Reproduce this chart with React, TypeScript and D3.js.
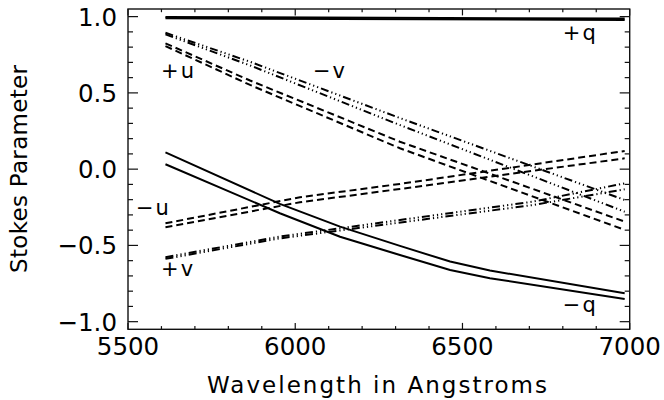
import React from "react";
import * as d3 from "d3";

// ---- data ----
const xTicksMajor = [5500, 6000, 6500, 7000];
const yTicksMajor = [-1.0, -0.5, 0.0, 0.5, 1.0];
const yTickLabels = ["\u22121.0", "\u22120.5", "0.0", "0.5", "1.0"];

const qPosWave = [5612, 6985];
const qPos1 = [0.998, 0.987];
const qPos2 = [0.989, 0.978];

const qNegWave = [5612, 5954, 6134, 6313, 6463, 6582, 6985];
const qNeg1 = [0.110, -0.228, -0.377, -0.503, -0.606, -0.665, -0.813];
const qNeg2 = [0.032, -0.289, -0.443, -0.563, -0.661, -0.715, -0.851];

const uPosWave = [5612, 5865, 6313, 6985];
const uPos1 = [0.825, 0.581, 0.180, -0.344];
const uPos2 = [0.807, 0.552, 0.137, -0.398];

const vNegWave = [5612, 5865, 6313, 6985];
const vNeg1 = [0.894, 0.704, 0.335, -0.202];
const vNeg2 = [0.884, 0.680, 0.289, -0.279];

const uNegWave = [5612, 6014, 6313, 6985];
const uNeg1 = [-0.355, -0.184, -0.097, 0.119];
const uNeg2 = [-0.381, -0.217, -0.130, 0.071];

const vPosWave = [5612, 5954, 6711, 6985];
const vPos1 = [-0.577, -0.442, -0.213, -0.093];
const vPos2 = [-0.588, -0.454, -0.235, -0.132];

const labels = [
  { text: "+q", wave: 6800, value: 0.846 },
  { text: "\u2212q", wave: 6800, value: -0.937 },
  { text: "+u", wave: 5599, value: 0.597 },
  { text: "\u2212v", wave: 6053, value: 0.597 },
  { text: "\u2212u", wave: 5524, value: -0.3 },
  { text: "+v", wave: 5599, value: -0.7 },
];

const SOLID = "none";
const DASH = "7,4";
const DASH3DOT = "8,3,1.2,3,1.2,3,1.2,3";

const series = [
  { wave: qPosWave, vals: qPos1, dash: SOLID },
  { wave: qPosWave, vals: qPos2, dash: SOLID },
  { wave: qNegWave, vals: qNeg1, dash: SOLID },
  { wave: qNegWave, vals: qNeg2, dash: SOLID },
  { wave: uPosWave, vals: uPos1, dash: DASH },
  { wave: uPosWave, vals: uPos2, dash: DASH },
  { wave: uNegWave, vals: uNeg1, dash: DASH },
  { wave: uNegWave, vals: uNeg2, dash: DASH },
  { wave: vNegWave, vals: vNeg1, dash: DASH3DOT },
  { wave: vNegWave, vals: vNeg2, dash: DASH3DOT },
  { wave: vPosWave, vals: vPos1, dash: DASH3DOT },
  { wave: vPosWave, vals: vPos2, dash: DASH3DOT },
];

export default function App() {
  const W = 664, H = 400;
  const left = 128, right = 629.7, top = 9, bottom = 329.3;
  const x = d3.scaleLinear().domain([5500, 7000]).range([left, right]);
  const y = d3.scaleLinear().domain([-1.05, 1.05]).range([bottom, top]);
  const line = d3
    .line<[number, number]>()
    .x((d) => x(d[0]))
    .y((d) => y(d[1]));

  const xMinor = d3.range(5500, 7001, 100);
  const yMinor = d3.range(-10, 11).map((i) => i / 10);
  const font = "'DejaVu Sans', sans-serif";

  const xMajLen = 6.4, xMinLen = 3.2, yMajLen = 10, yMinLen = 5;

  return (
    <svg
      width={W}
      height={H}
      style={{ position: "absolute", left: 0, top: 0, background: "#fff" }}
    >
      <rect x={0} y={0} width={W} height={H} fill="#fff" />
      {/* series */}
      <g fill="none" stroke="#000" strokeWidth={2}>
        {series.map((s, i) => (
          <path
            key={i}
            d={line(s.wave.map((w, j) => [w, s.vals[j]]) as [number, number][]) || ""}
            strokeDasharray={s.dash === "none" ? undefined : s.dash}
          />
        ))}
      </g>
      {/* frame */}
      <rect
        x={left}
        y={top}
        width={right - left}
        height={bottom - top}
        fill="none"
        stroke="#111"
        strokeWidth={1.4}
      />
      {/* ticks */}
      <g stroke="#111" strokeWidth={1.2}>
        {xMinor.map((t) => {
          const major = t % 500 === 0;
          const len = major ? xMajLen : xMinLen;
          return (
            <g key={t}>
              <line x1={x(t)} x2={x(t)} y1={bottom} y2={bottom - len} />
              <line x1={x(t)} x2={x(t)} y1={top} y2={top + len} />
            </g>
          );
        })}
        {yMinor.map((t) => {
          const major = Math.abs(t * 2 - Math.round(t * 2)) < 1e-6;
          const len = major ? yMajLen : yMinLen;
          return (
            <g key={t}>
              <line x1={left} x2={left + len} y1={y(t)} y2={y(t)} />
              <line x1={right} x2={right - len} y1={y(t)} y2={y(t)} />
            </g>
          );
        })}
      </g>
      {/* tick labels */}
      <g fontFamily={font} fontSize={24.5} fill="#000">
        {xTicksMajor.map((t) => (
          <text key={t} x={x(t)} y={355} textAnchor="middle">
            {t}
          </text>
        ))}
        {yTicksMajor.map((t, i) => (
          <text key={t} x={117} y={y(t) + 9} textAnchor="end">
            {yTickLabels[i]}
          </text>
        ))}
      </g>
      {/* axis titles */}
      <text
        x={377}
        y={393}
        textAnchor="middle"
        fontFamily={font}
        fontSize={23}
        textLength={340}
        lengthAdjust="spacing"
      >
        Wavelength in Angstroms
      </text>
      <text
        transform="translate(27,169) rotate(-90)"
        textAnchor="middle"
        fontFamily={font}
        fontSize={23}
        textLength={208}
        lengthAdjust="spacing"
      >
        Stokes Parameter
      </text>
      {/* curve labels */}
      <g fontFamily={font} fontSize={21} fill="#000">
        {labels.map((l) => (
          <text key={l.text} x={x(l.wave)} y={y(l.value)} letterSpacing={2}>
            {l.text}
          </text>
        ))}
      </g>
    </svg>
  );
}
